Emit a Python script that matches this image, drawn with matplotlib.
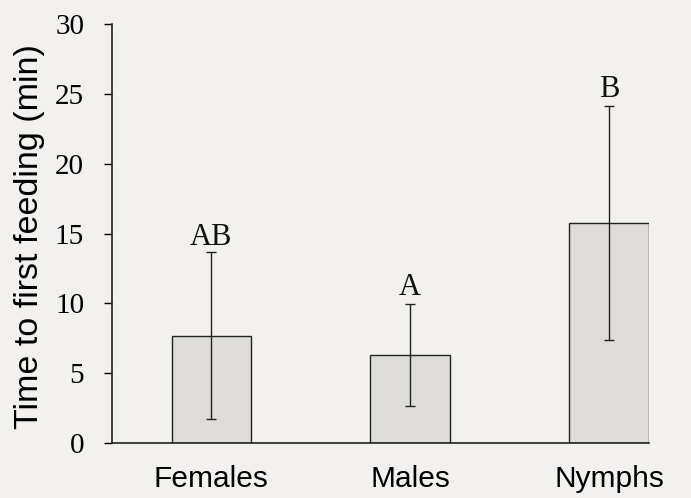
import matplotlib
matplotlib.use("Agg")
import matplotlib.pyplot as plt

categories = ["Females", "Males", "Nymphs"]
means = [7.7, 6.3, 15.75]
errors = [5.95, 3.65, 8.35]
letters = ["AB", "A", "B"]
letter_y = [14.75, 11.15, 25.3]
yticks = [0, 5, 10, 15, 20, 25, 30]

bg = "#f2f1ed"
fig = plt.figure(figsize=(6.91, 4.98), dpi=100, facecolor=bg)
ax = fig.add_axes([0.162, 0.110, 0.777, 0.842])
ax.set_facecolor(bg)

x = list(range(len(categories)))
ax.bar(x, means, width=0.4, color="#dddcd9", edgecolor="#222222", linewidth=1.0, zorder=2)
ax.errorbar(x, means, yerr=errors, fmt="none", ecolor="#222222", elinewidth=1.0,
            capsize=3.5, capthick=1.0, zorder=3)

for xi, lab, ly in zip(x, letters, letter_y):
    ax.text(xi, ly, lab, ha="center", va="center", fontsize=22,
            family="Liberation Serif", color="#111111")

ax.set_xlim(-0.5, 2.2)
ax.set_ylim(0, 30)
ax.set_yticks(yticks)
ax.set_yticklabels([str(t) for t in yticks], family="Liberation Serif", fontsize=21)
ax.set_xticks(x)
ax.set_xticklabels(categories, family="Liberation Sans", fontsize=21.5)
ax.tick_params(axis="x", length=0, pad=16)
ax.tick_params(axis="y", length=6, width=1.0, pad=14, direction="out")

for s in ["top", "right"]:
    ax.spines[s].set_visible(False)
for s in ["left", "bottom"]:
    ax.spines[s].set_linewidth(1.2)
    ax.spines[s].set_color("#222222")

ax.set_ylabel("Time to first feeding (min)", family="Liberation Sans", fontsize=24.5)
ax.yaxis.set_label_coords(-0.125, 0.494)

fig.savefig("out.png", dpi=100, facecolor=bg)
